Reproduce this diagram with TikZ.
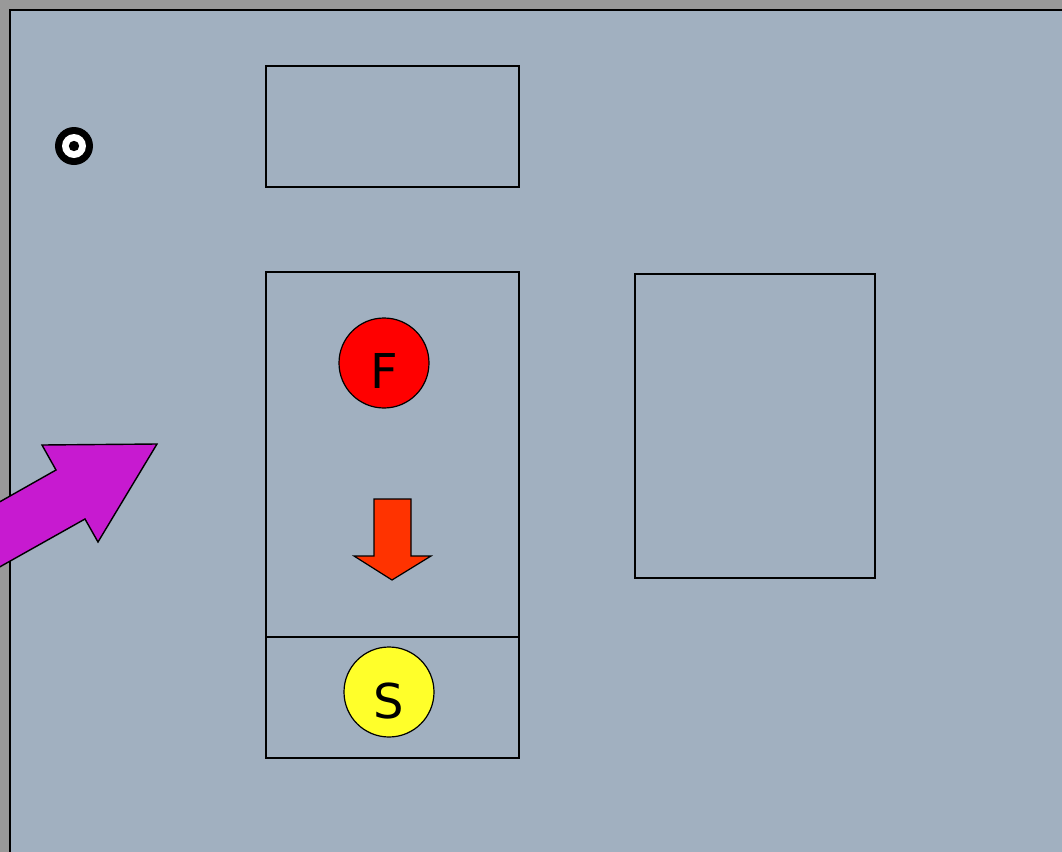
\documentclass[tikz,border=0pt]{standalone}
\usepackage{fontspec}
\setmainfont{DejaVu Sans}
\usetikzlibrary{positioning, calc, shapes}
\definecolor{panelgray}{RGB}{161, 176, 192}
\definecolor{framegray}{RGB}{153, 153, 153}
\definecolor{arrowmagenta}{RGB}{199, 26, 208}
\definecolor{arrowred}{RGB}{255, 51, 0}
\definecolor{tokenyellow}{RGB}{255, 255, 42}

\tikzset{
  box/.style={draw, line width=0.8pt},
  token/.style={circle, draw, line width=0.6pt, minimum size=45pt, inner sep=0pt, font=\fontsize{24}{24}\selectfont},
}

\begin{document}
\begin{tikzpicture}[x=0.5pt, y=-0.5pt]
        \useasboundingbox (0,0) rectangle (1062,852);
        \clip (0,0) rectangle (1062,852);
        \fill[framegray] (0,0) rectangle (1062,852);
        \fill[panelgray] (10,10) rectangle (1070,860);
        \draw[line width=1pt] (10,860) -- (10,10) -- (1070,10);

        % target mark
        \fill[black] (74,146) circle (9.5pt);
        \fill[white] (74,146) circle (6pt);
        \fill[black] (74,146) circle (2.6pt);

        % boxes
        \draw[box] (266,66) rectangle (519,187);
        \draw[box] (266,272) rectangle (519,637);
        \draw[box] (266,637) rectangle (519,758);
        \draw[box] (635,274) rectangle (875,578);

        % tokens
        \node[token, fill=red] (F) at (384,363) {\smash{\raisebox{-12.7pt}{F}}};
        \node[token, fill=tokenyellow] (S) at (389,692) {\smash{\raisebox{-13pt}{S}}};

        % down arrow
        \draw[fill=arrowred, line width=0.6pt] (374,499) -- (411,499) -- (411,556) -- (431,556)
              -- (392,580) -- (354,556) -- (374,556) -- cycle;

        % big arrow
        \draw[fill=arrowmagenta, line width=0.7pt] (-20,578) -- (85,519) -- (98,542) -- (157,444)
              -- (42,445) -- (56,470) -- (-20,513) -- cycle;
      \end{tikzpicture}
\end{document}
